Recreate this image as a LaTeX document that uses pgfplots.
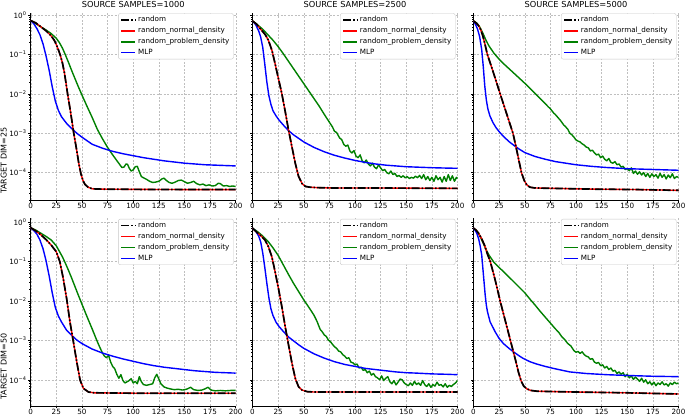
\documentclass[border=0pt]{standalone}
\usepackage{pgfplots}
\pgfplotsset{compat=1.18}
\usepackage{pgfplotstable}
\usepackage{fontspec}
\setmainfont{DejaVu Sans}
\definecolor{mplgreen}{rgb}{0,0.5,0}

% All y values are log10 of the plotted loss (the chart uses a log scale).
% ---------- top row: TARGET DIM=25 ----------
\pgfplotstableread{
x y
0 -0.14
5 -0.20
10 -0.30
15 -0.40
20 -0.53
23 -0.64
25 -0.75
27 -0.88
29 -1.03
31 -1.22
33 -1.48
36 -2.00
39 -2.48
42 -3.00
45 -3.45
47 -3.78
49 -4.03
51 -4.20
53 -4.30
56 -4.37
60 -4.41
70 -4.42
100 -4.425
150 -4.43
200 -4.43
}\TaR
\pgfplotstableread{
x y
0 -0.14
3 -0.22
6 -0.34
9 -0.50
12 -0.73
15 -1.04
18 -1.40
21 -1.82
24 -2.18
27 -2.42
30 -2.58
35 -2.75
40 -2.88
45 -3.00
50 -3.10
60 -3.28
70 -3.38
80 -3.46
90 -3.52
100 -3.57
110 -3.62
120 -3.66
130 -3.70
140 -3.73
150 -3.76
160 -3.78
170 -3.80
180 -3.81
190 -3.82
200 -3.83
}\TaB
\pgfplotstableread{
x y
0 -0.14
5 -0.22
10 -0.30
15 -0.38
20 -0.47
25 -0.59
28 -0.70
31 -0.84
34 -1.02
37 -1.21
40 -1.41
43 -1.60
46 -1.79
50 -2.03
55 -2.32
60 -2.60
65 -2.90
70 -3.14
75 -3.36
80 -3.55
85 -3.73
89 -3.87
91 -3.86
93 -3.78
94.5 -3.79
96 -3.88
98 -3.96
100 -3.93
102 -3.85
104 -3.84
106 -3.98
108 -4.10
110 -4.13
113 -4.17
116 -4.22
119 -4.25
122 -4.24
125 -4.22
128 -4.16
130 -4.14
132 -4.19
135 -4.25
138 -4.27
141 -4.24
144 -4.20
147 -4.19
150 -4.23
153 -4.27
156 -4.25
159 -4.22
162 -4.28
165 -4.31
168 -4.29
171 -4.33
174 -4.31
177 -4.34
180 -4.33
183 -4.27
185 -4.28
188 -4.34
191 -4.33
194 -4.35
197 -4.34
200 -4.35
}\TaG
\pgfplotstableread{
x y
0 -0.15
4 -0.23
7 -0.33
10 -0.42
12.5 -0.50
15.5 -0.64
17 -0.75
19 -0.90
22 -1.23
25 -1.58
28.5 -1.98
32 -2.46
35 -2.90
38.5 -3.35
41.8 -3.77
45 -4.10
48.4 -4.28
51.6 -4.35
56 -4.37
63 -4.38
80 -4.39
120 -4.39
200 -4.40
}\TbR
\pgfplotstableread{
x y
0 -0.15
3 -0.24
6 -0.40
8 -0.56
10 -0.82
12 -1.25
14 -1.70
16 -2.05
18 -2.27
20 -2.43
23 -2.56
26 -2.67
30 -2.79
35 -2.93
40 -3.04
45 -3.13
50 -3.22
60 -3.36
70 -3.47
80 -3.56
90 -3.63
100 -3.69
110 -3.74
120 -3.78
130 -3.81
140 -3.83
150 -3.85
160 -3.86
175 -3.875
190 -3.885
200 -3.89
}\TbB
\pgfplotstableread{
x y
0 -0.15
5 -0.25
10 -0.36
15 -0.50
20 -0.64
25 -0.80
30 -0.98
35 -1.17
40 -1.36
45 -1.55
50 -1.74
55 -1.93
60 -2.12
65 -2.31
70 -2.52
75 -2.72
78 -2.84
80 -2.95
82 -2.98
85 -3.12
87 -3.16
89 -3.28
91 -3.33
93 -3.30
95 -3.45
97 -3.50
99 -3.44
101 -3.58
103 -3.62
105 -3.55
107 -3.70
109 -3.75
111 -3.68
113 -3.78
115 -3.83
117 -3.76
119 -3.86
121 -3.90
123 -3.80
125 -3.88
127 -3.95
129 -3.92
131 -4.00
133 -4.03
135 -3.96
137 -4.05
139 -4.02
141 -4.10
143 -4.07
145 -4.12
147 -4.08
149 -4.13
151 -4.10
153 -4.15
155 -4.12
157 -4.14
159 -4.09
161 -4.13
163 -4.07
165 -4.15
167 -4.05
169 -4.18
171 -4.10
173 -4.20
175 -4.12
177 -4.22
179 -4.08
181 -4.18
183 -4.12
185 -4.24
187 -4.10
189 -4.22
191 -4.05
193 -4.20
195 -4.08
197 -4.22
199 -4.12
200 -4.15
}\TbG
\pgfplotstableread{
x y
0 -0.15
3 -0.21
5 -0.27
7 -0.37
9 -0.52
11 -0.72
13.5 -1.00
17 -1.27
21 -1.59
26 -2.00
30 -2.32
34 -2.64
38.5 -3.00
41.5 -3.35
44.5 -3.72
46.8 -4.00
49.5 -4.20
52 -4.31
55 -4.37
60 -4.39
80 -4.40
120 -4.42
160 -4.43
200 -4.45
}\TcR
\pgfplotstableread{
x y
0 -0.15
2 -0.24
4 -0.36
6 -0.55
8 -0.88
9.5 -1.30
11 -1.80
12.5 -2.15
14 -2.38
16 -2.56
19 -2.73
22 -2.86
26 -2.99
30 -3.10
35 -3.22
40 -3.32
45 -3.41
50 -3.49
60 -3.59
70 -3.66
80 -3.72
90 -3.76
100 -3.80
115 -3.84
130 -3.87
150 -3.90
175 -3.92
200 -3.94
}\TcB
\pgfplotstableread{
x y
0 -0.15
3 -0.20
6 -0.30
9 -0.45
12 -0.63
15 -0.78
20 -0.97
25 -1.12
30 -1.25
35 -1.37
40 -1.49
45 -1.61
50 -1.73
55 -1.86
60 -1.99
65 -2.12
70 -2.25
73 -2.33
75 -2.38
78 -2.48
80 -2.53
83 -2.62
85 -2.68
88 -2.79
90 -2.84
92 -2.90
94 -3.00
96 -3.04
98 -3.10
100 -3.17
102 -3.20
104 -3.22
106 -3.27
108 -3.30
110 -3.35
112 -3.37
114 -3.45
116 -3.43
118 -3.50
120 -3.55
122 -3.53
124 -3.62
126 -3.58
128 -3.66
130 -3.70
132 -3.64
134 -3.74
136 -3.76
138 -3.72
140 -3.80
142 -3.78
144 -3.86
146 -3.84
148 -3.92
150 -3.90
152 -3.95
154 -3.88
156 -4.02
158 -3.96
160 -4.04
162 -3.98
164 -4.06
166 -4.00
168 -4.10
170 -4.02
172 -4.12
174 -4.03
176 -4.10
178 -4.05
180 -4.14
182 -4.02
184 -4.12
186 -4.05
188 -4.16
190 -4.06
192 -4.13
194 -4.03
196 -4.15
198 -4.10
200 -4.12
}\TcG
% ---------- bottom row: TARGET DIM=50 ----------
\pgfplotstableread{
x y
0 -0.14
5 -0.22
10 -0.32
15 -0.44
20 -0.58
25 -0.75
28.4 -1.00
31.7 -1.42
35 -1.93
38.3 -2.53
41.6 -3.03
44.9 -3.54
48.2 -4.01
51.5 -4.22
56.4 -4.31
62 -4.33
100 -4.34
200 -4.34
}\BaR
\pgfplotstableread{
x y
0 -0.14
3 -0.21
6 -0.30
9 -0.45
12 -0.67
15 -0.98
18 -1.36
21 -1.79
24 -2.16
27 -2.38
30 -2.53
35 -2.74
40 -2.87
45 -2.99
50 -3.08
60 -3.22
70 -3.32
80 -3.40
90 -3.47
100 -3.53
110 -3.59
120 -3.64
130 -3.68
140 -3.71
150 -3.74
160 -3.77
170 -3.79
180 -3.81
190 -3.82
200 -3.83
}\BaB
\pgfplotstableread{
x y
0 -0.14
5 -0.20
10 -0.28
15 -0.36
20 -0.45
25 -0.60
28 -0.74
31 -0.88
34 -1.05
37 -1.23
40 -1.42
43 -1.62
46 -1.82
50 -2.08
55 -2.40
60 -2.71
64 -2.97
67 -3.15
70 -3.32
72 -3.40
74 -3.44
76 -3.38
78 -3.55
80 -3.66
82 -3.72
84 -3.86
86 -3.96
88 -3.87
90 -4.02
92 -4.08
94 -4.05
96 -4.02
98 -3.97
100 -4.08
102 -4.04
104 -4.10
106 -3.92
108 -4.05
110 -4.12
113 -4.14
116 -4.12
119 -4.10
121 -3.95
123 -3.86
125 -3.98
127 -4.10
130 -4.18
133 -4.21
136 -4.23
140 -4.25
144 -4.24
148 -4.26
152 -4.24
156 -4.19
159 -4.25
163 -4.27
167 -4.26
170 -4.23
173 -4.19
176 -4.26
180 -4.28
185 -4.27
190 -4.28
195 -4.27
200 -4.27
}\BaG
\pgfplotstableread{
x y
0 -0.15
4 -0.25
7.2 -0.32
12.2 -0.45
15.5 -0.62
18.8 -0.87
22 -1.25
25.3 -1.68
28.6 -2.14
31.9 -2.65
35.2 -3.12
38.5 -3.58
41.8 -3.97
45 -4.18
48.4 -4.26
53.3 -4.30
60 -4.31
200 -4.31
}\BbR
\pgfplotstableread{
x y
0 -0.15
3 -0.22
6 -0.35
8 -0.50
10 -0.78
12 -1.15
14 -1.55
16 -1.92
18 -2.20
20 -2.37
23 -2.54
26 -2.65
30 -2.77
35 -2.91
40 -3.01
45 -3.11
50 -3.20
60 -3.34
70 -3.45
80 -3.54
90 -3.61
100 -3.66
110 -3.71
120 -3.74
130 -3.77
140 -3.80
150 -3.82
160 -3.83
175 -3.85
190 -3.86
200 -3.87
}\BbB
\pgfplotstableread{
x y
0 -0.15
5 -0.24
10 -0.35
15 -0.48
20 -0.65
25 -0.84
30 -1.08
35 -1.32
40 -1.55
45 -1.76
50 -1.97
55 -2.16
60 -2.36
63 -2.52
66 -2.72
68 -2.78
70 -2.86
72 -2.90
74 -2.99
76 -3.03
78 -3.10
80 -3.16
82 -3.20
84 -3.27
86 -3.29
88 -3.36
90 -3.40
92 -3.46
94 -3.44
96 -3.55
98 -3.57
100 -3.62
102 -3.60
104 -3.70
106 -3.68
108 -3.76
110 -3.74
112 -3.82
114 -3.78
116 -3.88
118 -3.84
120 -3.92
122 -3.95
124 -4.00
126 -3.90
128 -4.02
130 -3.96
132 -3.92
134 -4.05
136 -4.10
138 -4.02
140 -4.13
142 -4.06
144 -3.98
146 -4.00
148 -4.08
150 -4.12
152 -4.15
154 -4.08
156 -4.14
158 -4.04
160 -4.12
162 -4.08
164 -4.14
166 -4.02
168 -4.12
170 -4.17
172 -4.10
174 -4.19
176 -4.12
178 -4.16
180 -4.06
182 -4.14
184 -4.12
186 -4.18
188 -4.10
190 -4.19
192 -4.14
194 -4.17
196 -4.12
198 -4.08
200 -4.02
}\BbG
\pgfplotstableread{
x y
0 -0.15
2.5 -0.20
5 -0.28
8 -0.42
11 -0.60
13.5 -0.80
16.4 -1.00
21 -1.45
26 -2.00
31 -2.50
36 -3.00
41 -3.50
44 -3.82
46.5 -4.03
49 -4.16
52 -4.23
56 -4.27
62 -4.29
100 -4.31
150 -4.33
200 -4.36
}\BcR
\pgfplotstableread{
x y
0 -0.15
2 -0.22
3.2 -0.28
5 -0.42
6.5 -0.60
8 -0.83
9.7 -1.34
11.4 -1.85
12.5 -2.10
13.6 -2.27
16.2 -2.53
21.1 -2.78
25 -2.95
29.2 -3.08
35 -3.21
39 -3.29
45 -3.40
48.7 -3.46
55 -3.54
61.7 -3.60
70 -3.66
77.9 -3.71
85 -3.75
94 -3.80
110 -3.84
130 -3.87
150 -3.89
175 -3.91
200 -3.92
}\BcB
\pgfplotstableread{
x y
0 -0.15
3 -0.22
6 -0.34
9 -0.50
12 -0.68
15 -0.83
20 -1.02
25 -1.15
30 -1.27
35 -1.40
40 -1.53
45 -1.66
50 -1.79
55 -1.95
60 -2.10
65 -2.26
70 -2.41
75 -2.56
80 -2.71
83 -2.79
86 -2.90
89 -2.98
92 -3.08
95 -3.14
98 -3.26
100 -3.30
102 -3.28
104 -3.33
106 -3.29
108 -3.36
110 -3.40
112 -3.42
114 -3.48
116 -3.46
118 -3.55
120 -3.58
122 -3.56
124 -3.64
126 -3.62
128 -3.70
130 -3.66
132 -3.74
134 -3.70
136 -3.78
138 -3.76
140 -3.84
142 -3.80
144 -3.86
146 -3.82
148 -3.92
150 -3.86
152 -3.95
154 -3.90
156 -3.99
158 -3.93
160 -3.98
162 -4.04
164 -3.96
166 -4.06
168 -4.00
170 -4.10
172 -4.05
174 -4.13
176 -4.06
178 -4.15
180 -4.08
182 -4.12
184 -4.05
186 -4.13
188 -4.10
190 -4.16
192 -4.08
194 -4.12
196 -4.06
198 -4.10
200 -4.08
}\BcG

\pgfplotsset{
  rnd/.style={black, line width=1.7pt, dash pattern=on 8pt off 2pt on 1.5pt off 2pt},
  nrm/.style={red, line width=1.4pt},
  prb/.style={mplgreen, line width=1.4pt, line join=round},
  mlp/.style={blue, line width=1.4pt},
  panel/.style={
    width=205pt, height=187.5pt, scale only axis,
    anchor=north west,
    xmin=0, xmax=200,
    axis x line*=bottom, axis y line*=left,
    axis line style={-, line width=0.6pt},
    tick align=outside,
    major tick length=2.5pt, minor tick length=1.5pt,
    every tick/.style={black, line width=0.5pt},
    xtick={0,25,50,75,100,125,150,175,200},
    xticklabels={0,25,50,75,100,125,150,175,200},
    ytick={-4,-3,-2,-1,0},
    minor ytick={-4.699,-4.523,-4.398,-4.301,-4.222,-4.155,-4.097,-4.046,
                 -3.699,-3.523,-3.398,-3.301,-3.222,-3.155,-3.097,-3.046,
                 -2.699,-2.523,-2.398,-2.301,-2.222,-2.155,-2.097,-2.046,
                 -1.699,-1.523,-1.398,-1.301,-1.222,-1.155,-1.097,-1.046,
                 -0.699,-0.523,-0.398,-0.301,-0.222,-0.155,-0.097,-0.046},
    xmajorgrids, ymajorgrids,
    major grid style={dash pattern=on 2pt off 1.5pt, black!25, line width=0.4pt},
    tick label style={font=\fontsize{7.2}{8}\selectfont},
    xticklabel style={inner sep=0.6pt},
    yticklabel style={inner sep=1.5pt},
    every axis title/.style={at={(0.5,1)}, anchor=base, yshift=5.4pt,
        font=\fontsize{8.25}{10}\selectfont},
    every axis y label/.style={at={(0,0.21)}, rotate=90, anchor=center,
        yshift=27pt, font=\fontsize{8}{10}\selectfont},
    legend cell align=left,
    legend image code/.code={\draw[##1] (0pt,0pt) -- (14pt,0pt);},
    legend style={at={(0.99,0.997)}, anchor=north east,
        font=\fontsize{7.2}{8.3}\selectfont, draw=black!22, rounded corners=2pt,
        fill=white, inner xsep=2pt, inner ysep=1pt, row sep=0pt},
  },
  lefty/.style={yticklabels={10\textsuperscript{−4},10\textsuperscript{−3},10\textsuperscript{−2},10\textsuperscript{−1},10\textsuperscript{0}}},
  noy/.style={yticklabels={,,,,}},
  toprow/.style={ymin=-4.70, ymax=0.06},
  botrow/.style={ymin=-4.66, ymax=0.10},
}

\newcommand{\panellegend}{%
  \addlegendimage{rnd}\addlegendentry{random}
  \addlegendimage{nrm}\addlegendentry{random\_normal\_density}
  \addlegendimage{prb}\addlegendentry{random\_problem\_density}
  \addlegendimage{mlp}\addlegendentry{MLP}}
\newcommand{\panelplots}[3]{%
  \addplot[prb, forget plot] table[x=x, y=y] {#2};
  \addplot[mlp, forget plot] table[x=x, y=y] {#3};
  \addplot[nrm, forget plot] table[x=x, y=y] {#1};
  \addplot[rnd, forget plot] table[x=x, y=y] {#1};}

\begin{document}
\begin{tikzpicture}
\useasboundingbox (0,0) rectangle (685pt,-416pt);
% top row
\begin{axis}[panel, toprow, lefty, at={(30.7pt,-12.7pt)},
  title={SOURCE SAMPLES=1000}, ylabel={TARGET DIM=25}]
\panellegend
\panelplots{\TaR}{\TaG}{\TaB}
\end{axis}
\begin{axis}[panel, toprow, noy, at={(252.5pt,-12.7pt)},
  title={SOURCE SAMPLES=2500}]
\panellegend
\panelplots{\TbR}{\TbG}{\TbB}
\end{axis}
\begin{axis}[panel, toprow, noy, at={(473.5pt,-12.7pt)},
  title={SOURCE SAMPLES=5000}]
\panellegend
\panelplots{\TcR}{\TcG}{\TcB}
\end{axis}
% bottom row
\begin{axis}[panel, botrow, lefty, at={(30.7pt,-218.3pt)},
  ylabel={TARGET DIM=50}]
\panellegend
\panelplots{\BaR}{\BaG}{\BaB}
\end{axis}
\begin{axis}[panel, botrow, noy, at={(252.5pt,-218.3pt)}]
\panellegend
\panelplots{\BbR}{\BbG}{\BbB}
\end{axis}
\begin{axis}[panel, botrow, noy, at={(473.5pt,-218.3pt)}]
\panellegend
\panelplots{\BcR}{\BcG}{\BcB}
\end{axis}
\end{tikzpicture}
\end{document}
